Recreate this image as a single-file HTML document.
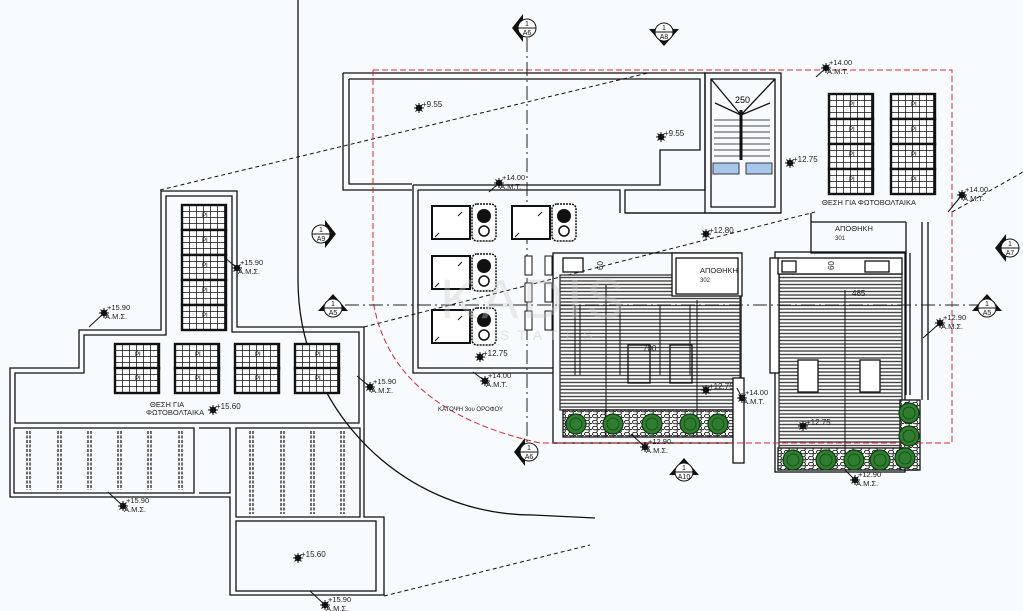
<!DOCTYPE html>
<html><head><meta charset="utf-8"><style>
html,body{margin:0;padding:0;background:#f8fbfd;}
svg{display:block;font-family:"Liberation Sans","DejaVu Sans",sans-serif;}
</style></head><body>
<svg width="1023" height="611" viewBox="0 0 1023 611" xmlns="http://www.w3.org/2000/svg">
<defs>
<pattern id="hatch" width="6" height="3.5" patternUnits="userSpaceOnUse"><rect width="6" height="3.5" fill="#fff"/><line x1="0" y1="1" x2="6" y2="1" stroke="#444" stroke-width="1.4"/></pattern>
<pattern id="pv" width="7" height="6" patternUnits="userSpaceOnUse"><rect width="7" height="6" fill="#fff"/><path d="M0 0H7M0 0V6" stroke="#111" stroke-width="1.5"/></pattern>
<pattern id="peb" width="8" height="6" patternUnits="userSpaceOnUse"><rect width="8" height="6" fill="#fff"/><ellipse cx="3" cy="2" rx="2.5" ry="1.8" fill="none" stroke="#222" stroke-width="1"/><ellipse cx="7" cy="5" rx="2" ry="1.5" fill="none" stroke="#222" stroke-width="1"/></pattern>
<g id="pan"><rect x="0" y="0" width="44" height="25" fill="url(#pv)" stroke="#111" stroke-width="2.4"/><text x="20" y="12" font-size="6">ΡΙ</text></g>
<g id="tree"><circle r="10" fill="#2f7d2f" stroke="#0d3d0d" stroke-width="1.2"/><circle r="6" fill="none" stroke="#175217" stroke-width="1"/></g>
<g id="el"><circle r="3.2" fill="#111"/><path d="M-5 0H5M0 -5V5M-3.5 -3.5L3.5 3.5M-3.5 3.5L3.5 -3.5" stroke="#111" stroke-width="1"/></g>
<g id="unit"><rect x="0" y="0" width="38" height="33" fill="#fff" stroke="#111" stroke-width="2"/><rect x="40" y="-2" width="24" height="37" rx="5" fill="#fff" stroke="#111" stroke-width="1.5" stroke-dasharray="2,1"/><circle cx="52" cy="10" r="7" fill="#111"/><circle cx="52" cy="25" r="5" fill="none" stroke="#111" stroke-width="1.5"/><path d="M30 6l-4 4M7 27l-4 4" stroke="#111"/></g>
</defs>

<g stroke="#111" fill="none" stroke-width="1.3">
<path d="M298 0 V280 A235 235 0 0 0 533 515 L595 518"/>
<g stroke-dasharray="4,3" stroke-width="1">
<line x1="160" y1="190" x2="648" y2="73"/>
<line x1="364" y1="327" x2="815" y2="212"/>
<line x1="952" y1="212" x2="1023" y2="172"/>
<line x1="384" y1="596" x2="590" y2="545"/>
</g>
<path d="M161 191 H237 V327 H364 V517 H384 V595 H230 V497 H10 V368 H79 V330 H161 Z"/>
<path d="M166 196 H232 V332 H359 V423 H15 V373 H84 V335 H166 Z"/>
<path d="M14 428 H194 V493 H14 Z"/>
<path d="M199 428 H230 V493 H199"/>
<path d="M236 428 H360 V517 H236 Z"/>
<rect x="236" y="521" width="140" height="70"/>
<g stroke-dasharray="3,1.5" stroke-width="1.2">
<path d="M27 431V490M30 431V490M58 431V490M61 431V490M88 431V490M91 431V490M118 431V490M121 431V490M148 431V490M151 431V490M179 431V490M182 431V490"/>
<path d="M250 431V514M253 431V514M281 431V514M284 431V514M311 431V514M314 431V514M341 431V514M344 431V514"/>
</g>
<path d="M343 73 H705 V190 H625 V213 H705" />
<path d="M343 73 V190 H412"/>
<path d="M349 79 H700 V150 H660 V185 H625 M349 79 V184 H412"/>
<path d="M413 185 H625 M413 185 V373 H553 M418 190 H620 V213 M418 190 V368 H553"/>
<rect x="705" y="73" width="76" height="140"/>
<rect x="711" y="79" width="64" height="128"/>
<path d="M711 79 L741 115 L775 79 M715 103 L741 115 L770 103"/>
<path d="M741 110 V160" stroke-width="3"/>
<path d="M714 120H770M714 126H770M714 132H770M714 138H770M714 144H770M714 150H770M714 156H770" stroke-width="0.8"/>
<path d="M811 213 V253 H906 V222 M811 222 H906 M625 213 H781"/>
<path d="M906 253 V395 M910 253 V395 M922 222 V400 M928 222 V400"/>
<rect x="553" y="253" width="188" height="190"/>
<rect x="560" y="275" width="180" height="135" fill="url(#hatch)" stroke="#333"/>
<rect x="672" y="253" width="70" height="43" fill="#fff"/>
<rect x="676" y="258" width="62" height="36" fill="#fff"/>
<rect x="563" y="258" width="20" height="14" fill="#fff"/>
<rect x="563" y="410" width="170" height="27" fill="url(#peb)"/>
<rect x="733" y="378" width="11" height="85" fill="#fff"/>
<path d="M606 285 V437 M697 300 V437 M575 305V375 M580 305V375 M620 305V375 M660 305V375 M690 305V375" stroke-width="1"/>
<rect x="628" y="345" width="22" height="38" fill="none"/>
<rect x="670" y="345" width="22" height="38" fill="none"/>
<rect x="775" y="252" width="130" height="220"/>
<rect x="779" y="273" width="123" height="176" fill="url(#hatch)" stroke="#333"/>
<rect x="770" y="258" width="9" height="115" fill="#fff"/>
<rect x="778" y="258" width="124" height="16" fill="#fff"/>
<rect x="782" y="261" width="14" height="11" fill="#fff"/>
<rect x="865" y="261" width="24" height="11" fill="#fff"/>
<rect x="778" y="448" width="140" height="22" fill="url(#peb)"/>
<rect x="900" y="400" width="20" height="70" fill="url(#peb)"/>
<rect x="798" y="360" width="20" height="32" fill="#fff"/>
<rect x="860" y="360" width="20" height="32" fill="#fff"/>
<path d="M845 290 V460" stroke-width="1"/>
</g>

<path d="M373 70 H952 V443 H553 M373 70 V300 Q390 410 540 443 L553 443" fill="none" stroke="#d23" stroke-width="1" stroke-dasharray="6,3"/>
<g stroke="#222" stroke-width="1" stroke-dasharray="14,4,2,4" fill="none">
<line x1="345" y1="305" x2="980" y2="305"/>
<line x1="527" y1="38" x2="527" y2="445"/>
</g>

<g>
<use href="#pan" x="182" y="205"/><use href="#pan" x="182" y="230"/><use href="#pan" x="182" y="255"/><use href="#pan" x="182" y="280"/><use href="#pan" x="182" y="305"/>
<use href="#pan" x="115" y="344"/><use href="#pan" x="115" y="368"/>
<use href="#pan" x="175" y="344"/><use href="#pan" x="175" y="368"/>
<use href="#pan" x="235" y="344"/><use href="#pan" x="235" y="368"/>
<use href="#pan" x="295" y="344"/><use href="#pan" x="295" y="368"/>
<use href="#pan" x="829" y="94"/><use href="#pan" x="829" y="119"/><use href="#pan" x="829" y="144"/><use href="#pan" x="829" y="169"/>
<use href="#pan" x="891" y="94"/><use href="#pan" x="891" y="119"/><use href="#pan" x="891" y="144"/><use href="#pan" x="891" y="169"/>
</g>
<use href="#unit" x="432" y="206"/><use href="#unit" x="512" y="206"/>
<use href="#unit" x="432" y="256"/><use href="#unit" x="432" y="310"/>
<g fill="#fff" stroke="#111"><rect x="525" y="256" width="7" height="19"/><rect x="545" y="256" width="7" height="19"/><rect x="525" y="283" width="7" height="19"/><rect x="545" y="283" width="7" height="19"/><rect x="525" y="311" width="7" height="19"/><rect x="545" y="311" width="7" height="19"/></g>
<rect x="713" y="163" width="26" height="11" fill="#a9c8e8" stroke="#335"/>
<rect x="746" y="163" width="26" height="11" fill="#a9c8e8" stroke="#335"/>
<text x="735" y="103" font-size="9">250</text>
<use href="#tree" x="576" y="424"/><use href="#tree" x="613" y="424"/><use href="#tree" x="652" y="424"/><use href="#tree" x="690" y="424"/><use href="#tree" x="718" y="424"/>
<use href="#tree" x="793" y="460"/><use href="#tree" x="826" y="460"/><use href="#tree" x="854" y="460"/><use href="#tree" x="880" y="460"/><use href="#tree" x="905" y="458"/>
<use href="#tree" x="909" y="413"/><use href="#tree" x="909" y="436"/>

<text x="440" y="318" font-size="56" fill="#c9c9c9" opacity="0.35" letter-spacing="4">KADIS</text>
<text x="500" y="340" font-size="14" fill="#c9c9c9" opacity="0.5" letter-spacing="8">STATES</text>

<g font-size="7.5" fill="#222">
<text x="822" y="205">ΘΕΣΗ ΓΙΑ ΦΩΤΟΒΟΛΤΑΙΚΑ</text>
<text x="150" y="407">ΘΕΣΗ ΓΙΑ</text><text x="146" y="415">ΦΩΤΟΒΟΛΤΑΙΚΑ</text>
<text x="700" y="273">ΑΠΟΘΗΚΗ</text><text x="700" y="282" font-size="6">302</text>
<text x="835" y="231">ΑΠΟΘΗΚΗ</text><text x="835" y="240" font-size="6">301</text>
<text x="438" y="411" font-size="6">ΚΑΤΟΨΗ 3ου ΟΡΟΦΟΥ</text>
<text x="643" y="351" font-size="8">700</text>
<text x="852" y="296" font-size="8">485</text>
<text transform="translate(603 270) rotate(-90)" font-size="8">60</text>
<text transform="translate(834 270) rotate(-90)" font-size="8">60</text>
</g>

<g font-size="8" fill="#222" stroke="none">
<g transform="translate(419,108)"><use href="#el"/><text x="3" y="-1">+9.55</text></g>
<g transform="translate(661,137)"><use href="#el"/><text x="3" y="-1">+9.55</text></g>
<g transform="translate(790,163)"><use href="#el"/><text x="3" y="-1">+12.75</text></g>
<g transform="translate(706,234)"><use href="#el"/><text x="3" y="-1">+12.80</text></g>
<g transform="translate(480,357)"><use href="#el"/><text x="3" y="-1">+12.75</text></g>
<g transform="translate(706,390)"><use href="#el"/><text x="3" y="-1">+12.75</text></g>
<g transform="translate(803,426)"><use href="#el"/><text x="3" y="-1">+12.75</text></g>
<g transform="translate(213,410)"><use href="#el"/><text x="3" y="-1">+15.60</text></g>
<g transform="translate(298,558)"><use href="#el"/><text x="3" y="-1">+15.60</text></g>
</g>
<g font-size="7.5" fill="#222">
<g transform="translate(499,183)"><line x1="0" y1="0" x2="-10" y2="9" stroke="#111"/><use href="#el"/><text x="3" y="-3">+14.00</text><text x="1" y="6">Α.Μ.Τ.</text></g>
<g transform="translate(826,68)"><line x1="0" y1="0" x2="-10" y2="9" stroke="#111"/><use href="#el"/><text x="3" y="-3">+14.00</text><text x="1" y="6">Α.Μ.Τ.</text></g>
<g transform="translate(962,195)"><line x1="0" y1="0" x2="-14" y2="17" stroke="#111"/><use href="#el"/><text x="3" y="-3">+14.00</text><text x="1" y="6">Α.Μ.Τ.</text></g>
<g transform="translate(485,381)"><line x1="0" y1="0" x2="-12" y2="-9" stroke="#111"/><use href="#el"/><text x="3" y="-3">+14.00</text><text x="1" y="6">Α.Μ.Τ.</text></g>
<g transform="translate(742,398)"><line x1="0" y1="0" x2="-5" y2="-10" stroke="#111"/><use href="#el"/><text x="3" y="-3">+14.00</text><text x="1" y="6">Α.Μ.Τ.</text></g>
<g transform="translate(237,268)"><line x1="0" y1="0" x2="-13" y2="-11" stroke="#111"/><use href="#el"/><text x="3" y="-3">+15.90</text><text x="1" y="6">Α.Μ.Σ.</text></g>
<g transform="translate(104,313)"><line x1="0" y1="0" x2="-15" y2="14" stroke="#111"/><use href="#el"/><text x="3" y="-3">+15.90</text><text x="1" y="6">Α.Μ.Σ.</text></g>
<g transform="translate(370,387)"><line x1="0" y1="0" x2="-13" y2="-11" stroke="#111"/><use href="#el"/><text x="3" y="-3">+15.90</text><text x="1" y="6">Α.Μ.Σ.</text></g>
<g transform="translate(123,506)"><line x1="0" y1="0" x2="-15" y2="-14" stroke="#111"/><use href="#el"/><text x="3" y="-3">+15.90</text><text x="1" y="6">Α.Μ.Σ.</text></g>
<g transform="translate(325,605)"><line x1="0" y1="0" x2="-15" y2="-14" stroke="#111"/><use href="#el"/><text x="3" y="-3">+15.90</text><text x="1" y="6">Α.Μ.Σ.</text></g>
<g transform="translate(645,447)"><line x1="0" y1="0" x2="-14" y2="-13" stroke="#111"/><use href="#el"/><text x="3" y="-3">+12.90</text><text x="1" y="6">Α.Μ.Σ.</text></g>
<g transform="translate(940,323)"><line x1="0" y1="0" x2="-17" y2="15" stroke="#111"/><use href="#el"/><text x="3" y="-3">+12.90</text><text x="1" y="6">Α.Μ.Σ.</text></g>
<g transform="translate(855,480)"><line x1="0" y1="0" x2="-10" y2="-10" stroke="#111"/><use href="#el"/><text x="3" y="-3">+12.90</text><text x="1" y="6">Α.Μ.Σ.</text></g>
</g>

<g font-size="7" text-anchor="middle" fill="#111">
<g transform="translate(527,28)"><path d="M-4 -14 L-15 0 L-4 14 Z" fill="#111"/><circle r="9" fill="#fff" stroke="#111"/><line x1="-9" y1="0" x2="9" y2="0" stroke="#111"/><text y="-2">1</text><text y="7">A6</text></g>
<g transform="translate(664,32)"><path d="M-15 -3 L0 14 L15 -3 Z" fill="#111"/><circle r="9" fill="#fff" stroke="#111"/><line x1="-9" y1="0" x2="9" y2="0" stroke="#111"/><text y="-2">1</text><text y="7">A8</text></g>
<g transform="translate(321,234)"><path d="M4 -14 L15 0 L4 14 Z" fill="#111"/><circle r="9" fill="#fff" stroke="#111"/><line x1="-9" y1="0" x2="9" y2="0" stroke="#111"/><text y="-2">1</text><text y="7">A9</text></g>
<g transform="translate(333,308)"><path d="M-15 3 L0 -14 L15 3 Z" fill="#111"/><circle r="9" fill="#fff" stroke="#111"/><line x1="-9" y1="0" x2="9" y2="0" stroke="#111"/><text y="-2">1</text><text y="7">A5</text></g>
<g transform="translate(987,308)"><path d="M-15 3 L0 -14 L15 3 Z" fill="#111"/><circle r="9" fill="#fff" stroke="#111"/><line x1="-9" y1="0" x2="9" y2="0" stroke="#111"/><text y="-2">1</text><text y="7">A5</text></g>
<g transform="translate(1010,248)"><path d="M-4 -14 L-15 0 L-4 14 Z" fill="#111"/><circle r="9" fill="#fff" stroke="#111"/><line x1="-9" y1="0" x2="9" y2="0" stroke="#111"/><text y="-2">1</text><text y="7">A7</text></g>
<g transform="translate(529,452)"><path d="M-4 -14 L-15 0 L-4 14 Z" fill="#111"/><circle r="9" fill="#fff" stroke="#111"/><line x1="-9" y1="0" x2="9" y2="0" stroke="#111"/><text y="-2">1</text><text y="7">A6</text></g>
<g transform="translate(684,472)"><path d="M-15 3 L0 -14 L15 3 Z" fill="#111"/><circle r="9" fill="#fff" stroke="#111"/><line x1="-9" y1="0" x2="9" y2="0" stroke="#111"/><text y="-2">1</text><text y="7">A10</text></g>
</g>
</svg>
</body></html>
